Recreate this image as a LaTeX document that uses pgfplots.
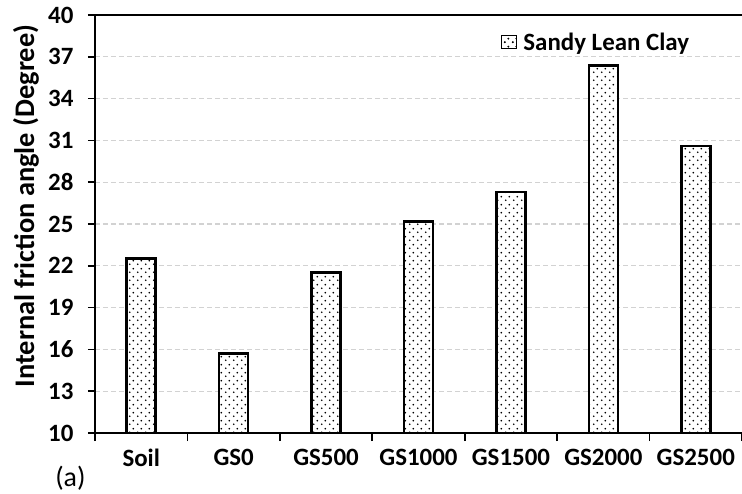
\documentclass[border=0pt]{standalone}
\usepackage{fontspec}
\setmainfont{Carlito}
\usepackage{pgfplots}
\pgfplotsset{compat=1.18}
\usetikzlibrary{patterns.meta}
\tikzdeclarepattern{
  name=mydots, type=uncolored,
  bounding box={(0bp,0bp) and (7.5bp,7.5bp)},
  tile size={(7.5bp,7.5bp)},
  code={\fill (1.875bp,1.875bp) circle (1.0bp); \fill (5.625bp,5.625bp) circle (1.0bp);}
}
\begin{document}
\begin{tikzpicture}
\begin{axis}[
  scale only axis,
  clip=false,
  width=647bp, height=418bp,
  xmin=-0.5, xmax=6.5,
  ymin=10, ymax=40,
  ytick={10,13,...,40},
  xtick={0,...,6},
  xticklabels={Soil,GS0,GS500,GS1000,GS1500,GS2000,GS2500},
  minor xtick={-0.5,0.5,...,6.5},
  major x tick style={draw=none},
  minor x tick style={line width=1.6bp, black},
  minor tick length=8bp,
  major tick length=7bp,
  ytick style={line width=1.6bp, black},
  tick align=outside,
  axis x line*=bottom,
  axis y line*=left,
  axis line style={line width=1.8bp, black, -},
  ymajorgrids,
  major grid style={gray!35, line width=1.2bp, dash pattern=on 5bp off 3bp},
  /pgf/number format/assume math mode=true,
  tick label style={font=\bfseries\fontsize{25}{27}\selectfont},
  xticklabel style={yshift=-6bp},
  yticklabel style={xshift=-11bp},
  ylabel={Internal friction angle (Degree)},
  ylabel style={font=\bfseries\fontsize{28.5}{30}\selectfont, at={(axis description cs:-0.1066,0.543)}, anchor=center, rotate=0},
  ybar, bar width=29bp, bar shift=0pt,
  legend style={draw=none, fill=none, at={(axis description cs:0.627,0.935)}, anchor=west,
    font=\bfseries\fontsize{25}{27}\selectfont, inner sep=0pt},
  legend image code/.code={\draw[line width=1.6bp, fill=white, postaction={pattern=mydots}] (0bp,-6.5bp) rectangle (15bp,6.5bp);},
]
\addplot[draw=black, line width=2.7bp, fill=white, postaction={pattern=mydots, pattern color=black}]
  coordinates {(0,22.5) (1,15.7) (2,21.5) (3,25.2) (4,27.3) (5,36.4) (6,30.6)};
\addlegendentry{\hspace{4bp}Sandy Lean Clay}
\draw[line width=1.8bp] (rel axis cs:0,1) -- (rel axis cs:1,1);
\node[font=\fontsize{28}{30}\selectfont] at (axis description cs:-0.038,-0.108) {(a)};
\coordinate (BL) at (rel axis cs:0,0);
\coordinate (TR) at (rel axis cs:1,1);
\end{axis}
\pgfresetboundingbox
\path ([shift={(-95bp,-61bp)}]BL) rectangle ([shift={(0bp,15bp)}]TR);
\end{tikzpicture}
\end{document}
